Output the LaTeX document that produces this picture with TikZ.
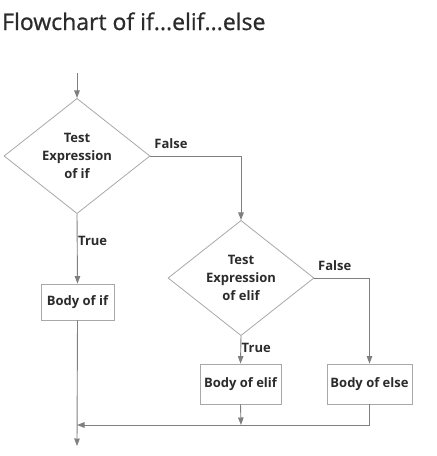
\documentclass[tikz,border=0pt]{standalone}
\usepackage{fontspec}
\setmainfont{Open Sans}
\newfontfamily\titlefont[FakeBold=0.8]{Open Sans}
\usetikzlibrary{shapes.geometric,arrows.meta}
\definecolor{linegray}{HTML}{7F7F7F}
\definecolor{boxgray}{HTML}{A8A8A8}
\definecolor{textgray}{HTML}{2B2B2B}
\tikzset{
  flowline/.style={draw=linegray,line width=0.9pt,-{Triangle[width=5.5pt,length=7.5pt]}},
  testbox/.style={diamond,draw=boxgray,line width=0.8pt,inner sep=0pt,
    minimum width=146pt,minimum height=112pt,align=center,
    text=textgray,font=\fontsize{13}{18}\selectfont\bfseries},
  bodybox/.style={rectangle,draw=boxgray,line width=0.8pt,inner sep=0pt,
    minimum height=40pt,text=textgray,font=\fontsize{13}{15}\selectfont\bfseries},
  branchlabel/.style={text=textgray,inner sep=0pt,font=\fontsize{13}{15}\selectfont\bfseries}
}
\begin{document}
\begin{tikzpicture}[x=1pt,y=-1pt]
\useasboundingbox (0,0) rectangle (437,456);

% === Title ===
\node[anchor=base west,inner sep=0pt,text=textgray,font=\titlefont\fontsize{23}{26}\selectfont] (title) at (2,30) {Flowchart of if...elif...else};

% === Decisions ===
\coordinate (start) at (77,73);
\node[testbox] (testif) at (77,156) {Test\\Expression\\of if};
\node[testbox] (testelif) at (241,278) {Test\\Expression\\of elif};

% === Bodies ===
\node[bodybox,minimum width=73pt,minimum height=36pt] (bodyif) at (77.5,302) {Body of if};
\node[bodybox,minimum width=81pt] (bodyelif) at (240.5,384) {Body of elif};
\node[bodybox,minimum width=85pt] (bodyelse) at (369.5,384) {Body of else};

% === Joins ===
\coordinate (joinelif) at (241,425);
\coordinate (joinif) at (77,425);
\coordinate (stop) at (77,446);

% === Connectors ===
\draw[flowline] (start) -- (testif.north);
\draw[flowline] (testif.east) -| (testelif.north)
  node[pos=0.02,branchlabel,anchor=south west,yshift=7pt] (falseif) {False};
\draw[flowline] (testif.south) -- (bodyif.north)
  node[pos=0.39,branchlabel,anchor=west,xshift=0.5pt] (trueif) {True};
\draw[flowline] (testelif.east) -| (bodyelse.north)
  node[pos=0.03,branchlabel,anchor=south west,yshift=7pt] (falseelif) {False};
\draw[flowline] (testelif.south) -- (bodyelif.north)
  node[pos=0.43,branchlabel,anchor=west,xshift=0.5pt] (trueelif) {True};
\draw[flowline] (bodyelif.south) -- (joinelif);
\draw[flowline] (bodyelse.south) |- (joinif);
\draw[flowline] (bodyif.south) -- (stop);

\end{tikzpicture}
\end{document}
